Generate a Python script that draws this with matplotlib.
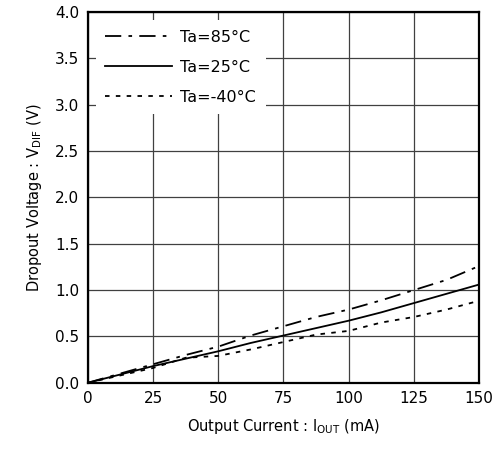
import matplotlib
matplotlib.use("Agg")
import matplotlib.pyplot as plt

# Output current (mA) and dropout voltage (V) for each ambient temperature
current = [0, 12.5, 25, 37.5, 50, 62.5, 75, 87.5, 100, 112.5, 125, 137.5, 150]
vdif_85 = [0, 0.10, 0.20, 0.30, 0.39, 0.51, 0.61, 0.71, 0.79, 0.89, 1.00, 1.11, 1.26]
vdif_25 = [0, 0.09, 0.18, 0.26, 0.34, 0.43, 0.51, 0.59, 0.67, 0.76, 0.86, 0.96, 1.06]
current_m40 = [0, 12.5, 25, 37.5, 50, 62.5, 75, 87.5, 100, 112.5, 125, 137.5, 148]
vdif_m40 = [0, 0.08, 0.16, 0.27, 0.29, 0.36, 0.44, 0.52, 0.56, 0.65, 0.71, 0.79, 0.87]

xticks = [0, 25, 50, 75, 100, 125, 150]
yticks = [0.0, 0.5, 1.0, 1.5, 2.0, 2.5, 3.0, 3.5, 4.0]

plt.rcParams['font.family'] = ['DejaVu Sans']
plt.rcParams['mathtext.default'] = 'regular'

fig = plt.figure(figsize=(4.96, 4.59), dpi=100)
ax = fig.add_axes([0.177, 0.166, 0.789, 0.808])

ax.plot(current, vdif_85, color='black', lw=1.3, linestyle=(0, (9, 4, 2, 4)), label='Ta=85°C')
ax.plot(current, vdif_25, color='black', lw=1.3, linestyle='-', label='Ta=25°C')
ax.plot(current_m40, vdif_m40, color='black', lw=1.3, linestyle=(0, (2.5, 3.5)), label='Ta=-40°C')

ax.set_xlim(0, 150)
ax.set_ylim(0, 4.0)
ax.set_xticks(xticks)
ax.set_yticks(yticks)
ax.set_yticklabels(['%.1f' % v for v in yticks])
ax.tick_params(length=0, labelsize=11, pad=6)
ax.grid(True, color='#404040', lw=0.9)
ax.set_axisbelow(True)
for s in ax.spines.values():
    s.set_linewidth(1.6)

ax.set_xlabel('Output Current : I$_{OUT}$ (mA)', fontsize=10.5, labelpad=8)
ax.set_ylabel('Dropout Voltage : V$_{DIF}$ (V)', fontsize=10.5, labelpad=8)

leg = ax.legend(loc='upper left', bbox_to_anchor=(0.0, 1.0), frameon=True, fontsize=11.5,
                handlelength=4.2, handletextpad=0.5, labelspacing=0.95, borderpad=0.6)
leg.get_frame().set_edgecolor('none')
leg.get_frame().set_facecolor('white')
leg.get_frame().set_alpha(1.0)
leg.get_frame().set_boxstyle('square', pad=0)

fig.savefig('out.png', dpi=100)
